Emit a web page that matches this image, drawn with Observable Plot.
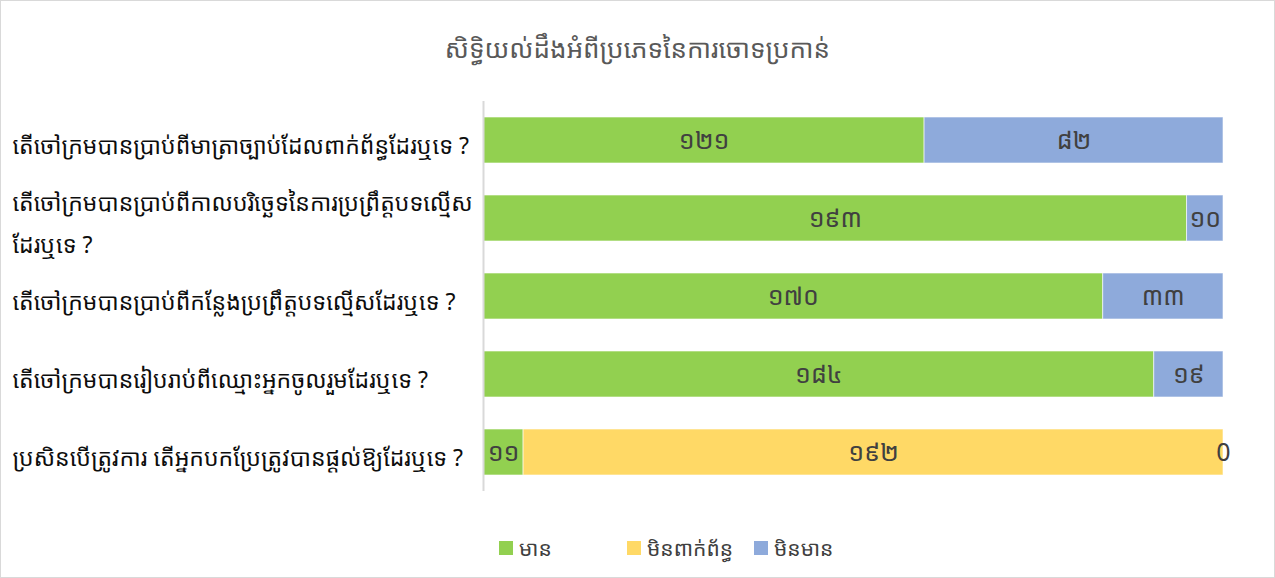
<!DOCTYPE html>
<html>
<head>
<meta charset="utf-8">
<script src="https://cdn.jsdelivr.net/npm/d3@7"></script>
<script src="https://cdn.jsdelivr.net/npm/@observablehq/plot@0.6"></script>
<style>
  html, body { margin: 0; padding: 0; background: #fff; }
  #wrap { position: relative; width: 1273px; height: 576px; border: 1px solid #d9d9d9; overflow: hidden;
          font-family: "Khmer OS", "Khmer OS System", "Noto Sans Khmer", "Noto Sans", "DejaVu Sans", sans-serif; }
  #title { height: 94px; line-height: 94px; text-align: center; font-size: 26px; color: #595959; }
  #legend { position: absolute; top: 533px; left: 498px; display: flex; font-size: 21px; color: #404040; }
  .item { display: flex; align-items: center; }
  .sw { width: 14px; height: 14px; margin-right: 6px; }
</style>
</head>
<body>
<div id="wrap">
  <div id="title"></div>
  <div id="chart"></div>
  <div id="legend"></div>
</div>
<script>
const title = "សិទ្ធិយល់ដឹងអំពីប្រភេទនៃការចោទប្រកាន់";
const questions = [
  "តើចៅក្រមបានប្រាប់ពីមាត្រាច្បាប់ដែលពាក់ព័ន្ធដែរឬទេ ?",
  "តើចៅក្រមបានប្រាប់ពីកាលបរិច្ឆេទនៃការប្រព្រឹត្តបទល្មើសដែរឬទេ ?",
  "តើចៅក្រមបានប្រាប់ពីកន្លែងប្រព្រឹត្តបទល្មើសដែរឬទេ ?",
  "តើចៅក្រមបានរៀបរាប់ពីឈ្មោះអ្នកចូលរួមដែរឬទេ ?",
  "ប្រសិនបើត្រូវការ តើអ្នកបកប្រែត្រូវបានផ្ដល់ឱ្យដែរឬទេ ?"
];
const questionLines = [
  "តើចៅក្រមបានប្រាប់ពីមាត្រាច្បាប់ដែលពាក់ព័ន្ធដែរឬទេ ?",
  "តើចៅក្រមបានប្រាប់ពីកាលបរិច្ឆេទនៃការប្រព្រឹត្តបទល្មើស\nដែរឬទេ ?",
  "តើចៅក្រមបានប្រាប់ពីកន្លែងប្រព្រឹត្តបទល្មើសដែរឬទេ ?",
  "តើចៅក្រមបានរៀបរាប់ពីឈ្មោះអ្នកចូលរួមដែរឬទេ ?",
  "ប្រសិនបើត្រូវការ តើអ្នកបកប្រែត្រូវបានផ្ដល់ឱ្យដែរឬទេ ?"
];
const seriesNames = ["មាន", "មិនពាក់ព័ន្ធ", "មិនមាន"];
const seriesColors = ["#92d050", "#ffd966", "#8eaadb"];
const yesValues = [121, 193, 170, 184, 11];
const naValues = [null, null, null, null, 192];
const noValues = [82, 10, 33, 19, 0];
const yesLabels = ["១២១", "១៩៣", "១៧០", "១៨៤", "១១"];
const naLabels = [null, null, null, null, "១៩២"];
const noLabels = ["៨២", "១០", "៣៣", "១៩", "0"];

const rows = [];
const vals = [yesValues, naValues, noValues];
const labs = [yesLabels, naLabels, noLabels];
questions.forEach((q, i) => {
  seriesNames.forEach((s, j) => {
    if (vals[j][i] !== null) rows.push({question: q, series: s, value: vals[j][i], label: labs[j][i]});
  });
});

document.getElementById("title").textContent = title;

const font = getComputedStyle(document.getElementById("wrap")).fontFamily;

const chart = Plot.plot({
  width: 1273,
  height: 410,
  marginLeft: 482,
  marginRight: 51,
  marginTop: 6,
  marginBottom: 14,
  style: {fontFamily: font, background: "transparent"},
  x: {domain: [0, 203], axis: null},
  y: {domain: questions, paddingInner: 0.41, paddingOuter: 0.205, axis: null},
  color: {domain: seriesNames, range: seriesColors},
  marks: [
    Plot.barX(rows, {x: "value", y: "question", fill: "series", order: seriesNames, stroke: "#ffffff", strokeOpacity: 0.6, strokeWidth: 1}),
    Plot.ruleX([0], {stroke: "#d9d9d9", strokeWidth: 2}),
    Plot.text(rows, Plot.stackX({x: "value", y: "question", z: "series", order: seriesNames, text: "label", fill: "#404040", fontSize: 25})),
    Plot.axisY({domain: questions, tickSize: 0, textAnchor: "start", dx: -462, fontSize: 23, lineHeight: 1.82, fill: "#0d0d0d",
      tickFormat: d => questionLines[questions.indexOf(d)], label: null})
  ]
});
document.getElementById("chart").appendChild(chart);

const legend = document.getElementById("legend");
const legendWidths = [128, 127, 110];
seriesNames.forEach((s, i) => {
  const it = document.createElement("div");
  it.className = "item";
  it.style.width = legendWidths[i] + "px";
  const sw = document.createElement("div");
  sw.className = "sw";
  sw.style.background = seriesColors[i];
  const t = document.createElement("span");
  t.textContent = s;
  it.appendChild(sw); it.appendChild(t);
  legend.appendChild(it);
});
</script>
</body>
</html>
